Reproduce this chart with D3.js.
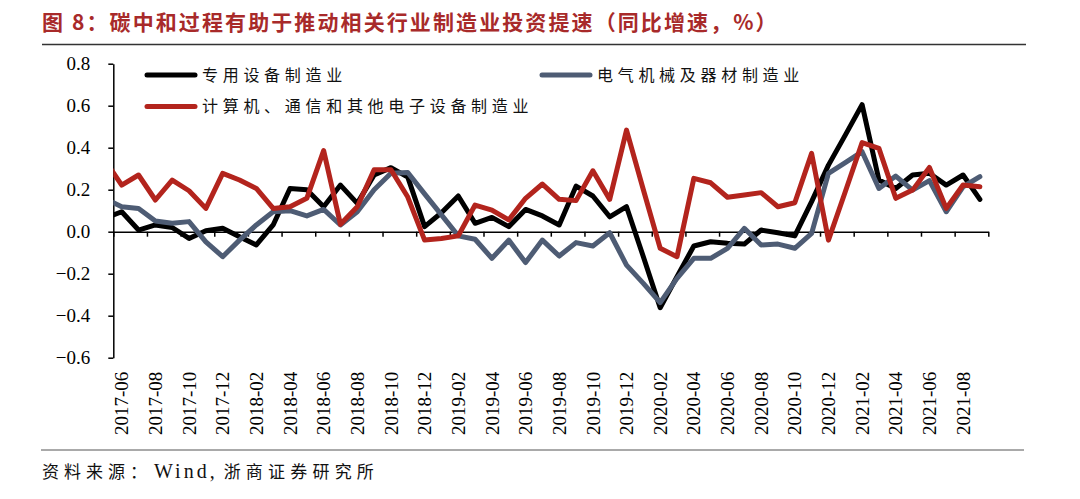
<!DOCTYPE html>
<html>
<head>
<meta charset="utf-8">
<script src="https://cdn.jsdelivr.net/npm/d3@7"></script>
<style>
  body { margin: 0; background: #fff; }
  svg { display: block; }
</style>
</head>
<body>
<svg id="chart" width="1080" height="499"></svg>
<script>
// ---- data ----
// first entry (2017-05) lies left of the plot area and is clipped by it
const months = ["2017-05",
  "2017-06","2017-07","2017-08","2017-09","2017-10","2017-11","2017-12",
  "2018-01","2018-02","2018-03","2018-04","2018-05","2018-06","2018-07","2018-08","2018-09","2018-10","2018-11","2018-12",
  "2019-01","2019-02","2019-03","2019-04","2019-05","2019-06","2019-07","2019-08","2019-09","2019-10","2019-11","2019-12",
  "2020-01","2020-02","2020-03","2020-04","2020-05","2020-06","2020-07","2020-08","2020-09","2020-10","2020-11","2020-12",
  "2021-01","2021-02","2021-03","2021-04","2021-05","2021-06","2021-07","2021-08","2021-09"];

const seriesNames = ["专用设备制造业", "电气机械及器材制造业", "计算机、通信和其他电子设备制造业"];

const specialEquip = [0.064,
  0.095,0.008,0.032,0.020,-0.032,0.005,0.016,
  -0.024,-0.063,0.032,0.206,0.200,0.119,0.222,0.135,0.270,0.305,0.260,0.024,
  0.090,0.170,0.040,0.068,0.024,0.106,0.075,0.032,0.217,0.170,0.071,0.119,
  -0.119,-0.362,-0.214,-0.068,-0.048,-0.055,-0.059,0.008,-0.005,-0.020,0.143,0.317,
  0.460,0.605,0.246,0.206,0.270,0.278,0.222,0.270,0.154];

const electrical = [0.157,
  0.119,0.111,0.051,0.040,0.048,-0.048,-0.119,
  -0.040,0.032,0.095,0.100,0.075,0.106,0.032,0.095,0.200,0.278,0.282,0.180,
  0.080,-0.020,-0.036,-0.127,-0.040,-0.147,-0.040,-0.116,-0.052,-0.068,-0.005,-0.159,
  -0.246,-0.338,-0.222,-0.127,-0.127,-0.079,0.016,-0.063,-0.059,-0.079,-0.008,0.278,
  0.329,0.381,0.206,0.265,0.198,0.243,0.095,0.214,0.262];

const electronics = [0.340,
  0.222,0.270,0.151,0.246,0.195,0.111,0.278,
  0.246,0.206,0.111,0.119,0.159,0.386,0.035,0.119,0.295,0.295,0.165,-0.040,
  -0.032,-0.020,0.127,0.103,0.056,0.159,0.227,0.154,0.148,0.290,0.154,0.484,
  0.200,-0.079,-0.119,0.254,0.233,0.164,0.175,0.186,0.119,0.138,0.373,-0.040,
  0.190,0.424,0.397,0.159,0.198,0.306,0.111,0.222,0.214];

const yTicks = [-0.6, -0.4, -0.2, 0.0, 0.2, 0.4, 0.6, 0.8];
const xLabelMonths = months.filter((m, i) => i % 2 === 1); // 2017-06, 2017-08, ...

const titleText = "图 8：碳中和过程有助于推动相关行业制造业投资提速（同比增速，%）";
const sourceParts = ["资料来源：", "Wind,", "浙商证券研究所"];

// ---- layout ----
const svg = d3.select("#chart");
const plot = { left: 113.3, right: 988.3, top: 63.7, bottom: 357.7 };
const colors = ["#000000", "#4e5c74", "#b3241d"];
const cjk = "'Noto Sans CJK SC', 'Noto Sans', sans-serif";
const serif = "'Liberation Serif', 'DejaVu Serif', serif";

const x = d3.scaleLinear().domain([0.5, months.length - 0.5]).range([plot.left, plot.right]);
const y = d3.scaleLinear().domain([-0.6, 0.8]).range([plot.bottom, plot.top]);

// title
svg.append("text")
  .attr("x", 42).attr("y", 30)
  .attr("font-family", cjk).attr("font-weight", "bold")
  .attr("font-size", 21).attr("letter-spacing", 2.1)
  .attr("fill", "#a82a2a")
  .text(titleText);

svg.append("line").attr("x1", 42).attr("x2", 1026).attr("y1", 44.5).attr("y2", 44.5)
  .attr("stroke", "#333").attr("stroke-width", 1.6);

svg.append("line").attr("x1", 41).attr("x2", 1024).attr("y1", 450).attr("y2", 450)
  .attr("stroke", "#555").attr("stroke-width", 1);

const src = svg.append("text")
  .attr("x", 42).attr("y", 478)
  .attr("font-size", 17)
  .attr("fill", "#111");
src.append("tspan").attr("font-family", cjk).attr("letter-spacing", 5).text(sourceParts[0]);
src.append("tspan").attr("dx", 2).attr("font-family", serif).attr("font-size", 20).attr("letter-spacing", 3).text(sourceParts[1]);
src.append("tspan").attr("dx", 6).attr("font-family", cjk).attr("letter-spacing", 5.2).text(sourceParts[2]);

// clip
svg.append("clipPath").attr("id", "plotclip")
  .append("rect").attr("x", plot.left).attr("y", 0)
  .attr("width", plot.right - plot.left).attr("height", 499);

// y axis
const yAxis = svg.append("g")
  .attr("transform", `translate(${plot.left},0)`)
  .call(d3.axisLeft(y).tickValues(yTicks).tickFormat(d3.format(".1f")).tickSize(5).tickSizeOuter(0).tickPadding(18));
yAxis.select(".domain").attr("stroke", "#000").attr("stroke-width", 1.5);
yAxis.selectAll(".tick line").attr("stroke", "#000").attr("stroke-width", 1.5);
yAxis.selectAll(".tick text").attr("font-family", serif).attr("font-size", 19).attr("fill", "#000");

// x axis at zero with boundary ticks every 2 months
const boundaries = d3.range(0.5, months.length, 2);
const xAxis = svg.append("g")
  .attr("transform", `translate(0,${y(0)})`)
  .call(d3.axisBottom(x).tickValues(boundaries).tickFormat("").tickSize(5).tickSizeOuter(0));
xAxis.select(".domain").attr("stroke", "#000").attr("stroke-width", 1.5);
xAxis.selectAll(".tick line").attr("stroke", "#000").attr("stroke-width", 1.5);

// x labels (rotated) under the plot
const labelIdx = months.map((m, i) => i).filter(i => xLabelMonths.includes(months[i]));
svg.append("g").selectAll("text")
  .data(labelIdx)
  .join("text")
  .attr("transform", d => `translate(${x(d)},${plot.bottom + 14}) rotate(-90)`)
  .attr("text-anchor", "end")
  .attr("dy", "0.35em")
  .attr("font-family", serif).attr("font-size", 19).attr("fill", "#000")
  .text(d => months[d]);

// lines
const allSeries = [specialEquip, electrical, electronics];
const line = d3.line().x((d, i) => x(i)).y(d => y(d));
const lines = svg.append("g").attr("clip-path", "url(#plotclip)");
allSeries.forEach((s, k) => {
  lines.append("path")
    .datum(s)
    .attr("d", line)
    .attr("fill", "none")
    .attr("stroke", colors[k])
    .attr("stroke-width", 5)
    .attr("stroke-linejoin", "round")
    .attr("stroke-linecap", "round");
});

// legend
const legendItems = [
  { k: 0, x: 145, y: 75 },
  { k: 1, x: 540, y: 75 },
  { k: 2, x: 145, y: 106.5 }
];
const lg = svg.append("g");
legendItems.forEach(it => {
  lg.append("line")
    .attr("x1", it.x + 2).attr("x2", it.x + 50)
    .attr("y1", it.y).attr("y2", it.y)
    .attr("stroke", colors[it.k]).attr("stroke-width", 5).attr("stroke-linecap", "round");
  lg.append("text")
    .attr("x", it.x + 57).attr("y", it.y)
    .attr("dy", "0.36em")
    .attr("font-family", cjk).attr("font-size", 16).attr("letter-spacing", 4.7)
    .attr("fill", "#111")
    .text(seriesNames[it.k]);
});
</script>
</body>
</html>
